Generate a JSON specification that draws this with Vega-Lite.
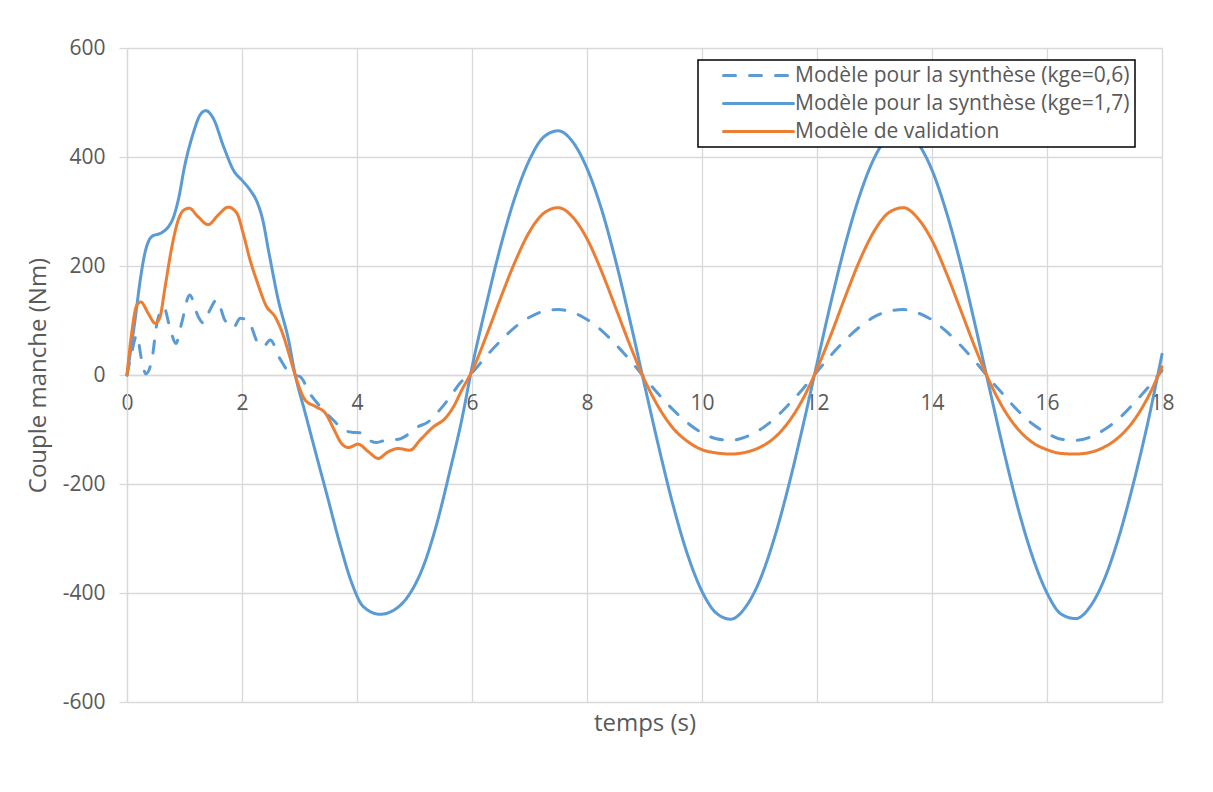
{
"$schema": "https://vega.github.io/schema/vega-lite/v6.json",
"width": 1035, "height": 654,
"autosize": {"type": "none"},
"padding": {"left": 127, "top": 48, "right": 51, "bottom": 90},
"background": "white",
"config": {"view": {"stroke": null}, "font": "Open Sans"},
"data": {"values": [
{"modele":"Modèle pour la synthèse (kge=0,6)","temps":0,"couple":0},
{"modele":"Modèle pour la synthèse (kge=0,6)","temps":0.08,"couple":40},
{"modele":"Modèle pour la synthèse (kge=0,6)","temps":0.17,"couple":73},
{"modele":"Modèle pour la synthèse (kge=0,6)","temps":0.25,"couple":30},
{"modele":"Modèle pour la synthèse (kge=0,6)","temps":0.33,"couple":2},
{"modele":"Modèle pour la synthèse (kge=0,6)","temps":0.43,"couple":27},
{"modele":"Modèle pour la synthèse (kge=0,6)","temps":0.53,"couple":100},
{"modele":"Modèle pour la synthèse (kge=0,6)","temps":0.64,"couple":124},
{"modele":"Modèle pour la synthèse (kge=0,6)","temps":0.75,"couple":85},
{"modele":"Modèle pour la synthèse (kge=0,6)","temps":0.85,"couple":58},
{"modele":"Modèle pour la synthèse (kge=0,6)","temps":0.95,"couple":95},
{"modele":"Modèle pour la synthèse (kge=0,6)","temps":1.09,"couple":147},
{"modele":"Modèle pour la synthèse (kge=0,6)","temps":1.24,"couple":107},
{"modele":"Modèle pour la synthèse (kge=0,6)","temps":1.33,"couple":95},
{"modele":"Modèle pour la synthèse (kge=0,6)","temps":1.44,"couple":119},
{"modele":"Modèle pour la synthèse (kge=0,6)","temps":1.56,"couple":138},
{"modele":"Modèle pour la synthèse (kge=0,6)","temps":1.7,"couple":101},
{"modele":"Modèle pour la synthèse (kge=0,6)","temps":1.85,"couple":87},
{"modele":"Modèle pour la synthèse (kge=0,6)","temps":1.97,"couple":104},
{"modele":"Modèle pour la synthèse (kge=0,6)","temps":2.1,"couple":101},
{"modele":"Modèle pour la synthèse (kge=0,6)","temps":2.28,"couple":58},
{"modele":"Modèle pour la synthèse (kge=0,6)","temps":2.37,"couple":52},
{"modele":"Modèle pour la synthèse (kge=0,6)","temps":2.49,"couple":64},
{"modele":"Modèle pour la synthèse (kge=0,6)","temps":2.66,"couple":30},
{"modele":"Modèle pour la synthèse (kge=0,6)","temps":2.86,"couple":1},
{"modele":"Modèle pour la synthèse (kge=0,6)","temps":3.01,"couple":-3},
{"modele":"Modèle pour la synthèse (kge=0,6)","temps":3.18,"couple":-34},
{"modele":"Modèle pour la synthèse (kge=0,6)","temps":3.36,"couple":-58},
{"modele":"Modèle pour la synthèse (kge=0,6)","temps":3.59,"couple":-83},
{"modele":"Modèle pour la synthèse (kge=0,6)","temps":3.77,"couple":-101},
{"modele":"Modèle pour la synthèse (kge=0,6)","temps":3.91,"couple":-105},
{"modele":"Modèle pour la synthèse (kge=0,6)","temps":4.05,"couple":-106},
{"modele":"Modèle pour la synthèse (kge=0,6)","temps":4.2,"couple":-119},
{"modele":"Modèle pour la synthèse (kge=0,6)","temps":4.34,"couple":-124},
{"modele":"Modèle pour la synthèse (kge=0,6)","temps":4.52,"couple":-119},
{"modele":"Modèle pour la synthèse (kge=0,6)","temps":4.72,"couple":-118},
{"modele":"Modèle pour la synthèse (kge=0,6)","temps":4.83,"couple":-113},
{"modele":"Modèle pour la synthèse (kge=0,6)","temps":5.04,"couple":-96},
{"modele":"Modèle pour la synthèse (kge=0,6)","temps":5.24,"couple":-86},
{"modele":"Modèle pour la synthèse (kge=0,6)","temps":5.44,"couple":-64},
{"modele":"Modèle pour la synthèse (kge=0,6)","temps":5.62,"couple":-40},
{"modele":"Modèle pour la synthèse (kge=0,6)","temps":5.79,"couple":-15},
{"modele":"Modèle pour la synthèse (kge=0,6)","temps":6,"couple":4},
{"modele":"Modèle pour la synthèse (kge=0,6)","temps":6.25,"couple":35},
{"modele":"Modèle pour la synthèse (kge=0,6)","temps":6.5,"couple":63},
{"modele":"Modèle pour la synthèse (kge=0,6)","temps":6.75,"couple":88},
{"modele":"Modèle pour la synthèse (kge=0,6)","temps":7,"couple":106},
{"modele":"Modèle pour la synthèse (kge=0,6)","temps":7.25,"couple":117},
{"modele":"Modèle pour la synthèse (kge=0,6)","temps":7.5,"couple":120},
{"modele":"Modèle pour la synthèse (kge=0,6)","temps":7.75,"couple":115},
{"modele":"Modèle pour la synthèse (kge=0,6)","temps":8,"couple":102},
{"modele":"Modèle pour la synthèse (kge=0,6)","temps":8.25,"couple":82},
{"modele":"Modèle pour la synthèse (kge=0,6)","temps":8.5,"couple":56},
{"modele":"Modèle pour la synthèse (kge=0,6)","temps":8.75,"couple":27},
{"modele":"Modèle pour la synthèse (kge=0,6)","temps":9,"couple":-5},
{"modele":"Modèle pour la synthèse (kge=0,6)","temps":9.25,"couple":-36},
{"modele":"Modèle pour la synthèse (kge=0,6)","temps":9.5,"couple":-64},
{"modele":"Modèle pour la synthèse (kge=0,6)","temps":9.75,"couple":-88},
{"modele":"Modèle pour la synthèse (kge=0,6)","temps":10,"couple":-106},
{"modele":"Modèle pour la synthèse (kge=0,6)","temps":10.25,"couple":-117},
{"modele":"Modèle pour la synthèse (kge=0,6)","temps":10.5,"couple":-120},
{"modele":"Modèle pour la synthèse (kge=0,6)","temps":10.75,"couple":-114},
{"modele":"Modèle pour la synthèse (kge=0,6)","temps":11,"couple":-101},
{"modele":"Modèle pour la synthèse (kge=0,6)","temps":11.25,"couple":-81},
{"modele":"Modèle pour la synthèse (kge=0,6)","temps":11.5,"couple":-55},
{"modele":"Modèle pour la synthèse (kge=0,6)","temps":11.75,"couple":-26},
{"modele":"Modèle pour la synthèse (kge=0,6)","temps":12,"couple":6},
{"modele":"Modèle pour la synthèse (kge=0,6)","temps":12.25,"couple":37},
{"modele":"Modèle pour la synthèse (kge=0,6)","temps":12.5,"couple":65},
{"modele":"Modèle pour la synthèse (kge=0,6)","temps":12.75,"couple":89},
{"modele":"Modèle pour la synthèse (kge=0,6)","temps":13,"couple":107},
{"modele":"Modèle pour la synthèse (kge=0,6)","temps":13.25,"couple":117},
{"modele":"Modèle pour la synthèse (kge=0,6)","temps":13.5,"couple":120},
{"modele":"Modèle pour la synthèse (kge=0,6)","temps":13.75,"couple":114},
{"modele":"Modèle pour la synthèse (kge=0,6)","temps":14,"couple":101},
{"modele":"Modèle pour la synthèse (kge=0,6)","temps":14.25,"couple":80},
{"modele":"Modèle pour la synthèse (kge=0,6)","temps":14.5,"couple":54},
{"modele":"Modèle pour la synthèse (kge=0,6)","temps":14.75,"couple":25},
{"modele":"Modèle pour la synthèse (kge=0,6)","temps":15,"couple":-7},
{"modele":"Modèle pour la synthèse (kge=0,6)","temps":15.25,"couple":-37},
{"modele":"Modèle pour la synthèse (kge=0,6)","temps":15.5,"couple":-66},
{"modele":"Modèle pour la synthèse (kge=0,6)","temps":15.75,"couple":-90},
{"modele":"Modèle pour la synthèse (kge=0,6)","temps":16,"couple":-107},
{"modele":"Modèle pour la synthèse (kge=0,6)","temps":16.25,"couple":-118},
{"modele":"Modèle pour la synthèse (kge=0,6)","temps":16.5,"couple":-120},
{"modele":"Modèle pour la synthèse (kge=0,6)","temps":16.75,"couple":-114},
{"modele":"Modèle pour la synthèse (kge=0,6)","temps":17,"couple":-100},
{"modele":"Modèle pour la synthèse (kge=0,6)","temps":17.25,"couple":-80},
{"modele":"Modèle pour la synthèse (kge=0,6)","temps":17.5,"couple":-53},
{"modele":"Modèle pour la synthèse (kge=0,6)","temps":17.75,"couple":-24},
{"modele":"Modèle pour la synthèse (kge=0,6)","temps":18,"couple":8},
{"modele":"Modèle pour la synthèse (kge=1,7)","temps":0,"couple":0},
{"modele":"Modèle pour la synthèse (kge=1,7)","temps":0.07,"couple":50},
{"modele":"Modèle pour la synthèse (kge=1,7)","temps":0.14,"couple":101},
{"modele":"Modèle pour la synthèse (kge=1,7)","temps":0.23,"couple":174},
{"modele":"Modèle pour la synthèse (kge=1,7)","temps":0.31,"couple":223},
{"modele":"Modèle pour la synthèse (kge=1,7)","temps":0.43,"couple":254},
{"modele":"Modèle pour la synthèse (kge=1,7)","temps":0.6,"couple":261},
{"modele":"Modèle pour la synthèse (kge=1,7)","temps":0.72,"couple":272},
{"modele":"Modèle pour la synthèse (kge=1,7)","temps":0.81,"couple":290},
{"modele":"Modèle pour la synthèse (kge=1,7)","temps":0.9,"couple":325},
{"modele":"Modèle pour la synthèse (kge=1,7)","temps":1,"couple":382},
{"modele":"Modèle pour la synthèse (kge=1,7)","temps":1.15,"couple":443},
{"modele":"Modèle pour la synthèse (kge=1,7)","temps":1.27,"couple":477},
{"modele":"Modèle pour la synthèse (kge=1,7)","temps":1.37,"couple":485},
{"modele":"Modèle pour la synthèse (kge=1,7)","temps":1.5,"couple":471},
{"modele":"Modèle pour la synthèse (kge=1,7)","temps":1.68,"couple":419},
{"modele":"Modèle pour la synthèse (kge=1,7)","temps":1.85,"couple":376},
{"modele":"Modèle pour la synthèse (kge=1,7)","temps":2.02,"couple":355},
{"modele":"Modèle pour la synthèse (kge=1,7)","temps":2.15,"couple":338},
{"modele":"Modèle pour la synthèse (kge=1,7)","temps":2.26,"couple":318},
{"modele":"Modèle pour la synthèse (kge=1,7)","temps":2.36,"couple":285},
{"modele":"Modèle pour la synthèse (kge=1,7)","temps":2.46,"couple":229},
{"modele":"Modèle pour la synthèse (kge=1,7)","temps":2.63,"couple":138},
{"modele":"Modèle pour la synthèse (kge=1,7)","temps":2.81,"couple":64},
{"modele":"Modèle pour la synthèse (kge=1,7)","temps":2.92,"couple":3},
{"modele":"Modèle pour la synthèse (kge=1,7)","temps":3.1,"couple":-70},
{"modele":"Modèle pour la synthèse (kge=1,7)","temps":3.3,"couple":-150},
{"modele":"Modèle pour la synthèse (kge=1,7)","temps":3.47,"couple":-217},
{"modele":"Modèle pour la synthèse (kge=1,7)","temps":3.7,"couple":-309},
{"modele":"Modèle pour la synthèse (kge=1,7)","temps":3.91,"couple":-382},
{"modele":"Modèle pour la synthèse (kge=1,7)","temps":4.11,"couple":-425},
{"modele":"Modèle pour la synthèse (kge=1,7)","temps":4.4,"couple":-439},
{"modele":"Modèle pour la synthèse (kge=1,7)","temps":4.69,"couple":-428},
{"modele":"Modèle pour la synthèse (kge=1,7)","temps":4.92,"couple":-401},
{"modele":"Modèle pour la synthèse (kge=1,7)","temps":5.15,"couple":-352},
{"modele":"Modèle pour la synthèse (kge=1,7)","temps":5.39,"couple":-272},
{"modele":"Modèle pour la synthèse (kge=1,7)","temps":5.62,"couple":-174},
{"modele":"Modèle pour la synthèse (kge=1,7)","temps":5.82,"couple":-83},
{"modele":"Modèle pour la synthèse (kge=1,7)","temps":6,"couple":14},
{"modele":"Modèle pour la synthèse (kge=1,7)","temps":6.25,"couple":130},
{"modele":"Modèle pour la synthèse (kge=1,7)","temps":6.5,"couple":237},
{"modele":"Modèle pour la synthèse (kge=1,7)","temps":6.75,"couple":327},
{"modele":"Modèle pour la synthèse (kge=1,7)","temps":7,"couple":395},
{"modele":"Modèle pour la synthèse (kge=1,7)","temps":7.25,"couple":437},
{"modele":"Modèle pour la synthèse (kge=1,7)","temps":7.5,"couple":448},
{"modele":"Modèle pour la synthèse (kge=1,7)","temps":7.75,"couple":428},
{"modele":"Modèle pour la synthèse (kge=1,7)","temps":8,"couple":379},
{"modele":"Modèle pour la synthèse (kge=1,7)","temps":8.25,"couple":305},
{"modele":"Modèle pour la synthèse (kge=1,7)","temps":8.5,"couple":209},
{"modele":"Modèle pour la synthèse (kge=1,7)","temps":8.75,"couple":99},
{"modele":"Modèle pour la synthèse (kge=1,7)","temps":9,"couple":-18},
{"modele":"Modèle pour la synthèse (kge=1,7)","temps":9.25,"couple":-133},
{"modele":"Modèle pour la synthèse (kge=1,7)","temps":9.5,"couple":-240},
{"modele":"Modèle pour la synthèse (kge=1,7)","temps":9.75,"couple":-330},
{"modele":"Modèle pour la synthèse (kge=1,7)","temps":10,"couple":-397},
{"modele":"Modèle pour la synthèse (kge=1,7)","temps":10.25,"couple":-437},
{"modele":"Modèle pour la synthèse (kge=1,7)","temps":10.5,"couple":-448},
{"modele":"Modèle pour la synthèse (kge=1,7)","temps":10.75,"couple":-427},
{"modele":"Modèle pour la synthèse (kge=1,7)","temps":11,"couple":-378},
{"modele":"Modèle pour la synthèse (kge=1,7)","temps":11.25,"couple":-302},
{"modele":"Modèle pour la synthèse (kge=1,7)","temps":11.5,"couple":-206},
{"modele":"Modèle pour la synthèse (kge=1,7)","temps":11.75,"couple":-96},
{"modele":"Modèle pour la synthèse (kge=1,7)","temps":12,"couple":21},
{"modele":"Modèle pour la synthèse (kge=1,7)","temps":12.25,"couple":137},
{"modele":"Modèle pour la synthèse (kge=1,7)","temps":12.5,"couple":243},
{"modele":"Modèle pour la synthèse (kge=1,7)","temps":12.75,"couple":332},
{"modele":"Modèle pour la synthèse (kge=1,7)","temps":13,"couple":399},
{"modele":"Modèle pour la synthèse (kge=1,7)","temps":13.25,"couple":438},
{"modele":"Modèle pour la synthèse (kge=1,7)","temps":13.5,"couple":447},
{"modele":"Modèle pour la synthèse (kge=1,7)","temps":13.75,"couple":426},
{"modele":"Modèle pour la synthèse (kge=1,7)","temps":14,"couple":376},
{"modele":"Modèle pour la synthèse (kge=1,7)","temps":14.25,"couple":299},
{"modele":"Modèle pour la synthèse (kge=1,7)","temps":14.5,"couple":203},
{"modele":"Modèle pour la synthèse (kge=1,7)","temps":14.75,"couple":92},
{"modele":"Modèle pour la synthèse (kge=1,7)","temps":15,"couple":-25},
{"modele":"Modèle pour la synthèse (kge=1,7)","temps":15.25,"couple":-140},
{"modele":"Modèle pour la synthèse (kge=1,7)","temps":15.5,"couple":-246},
{"modele":"Modèle pour la synthèse (kge=1,7)","temps":15.75,"couple":-334},
{"modele":"Modèle pour la synthèse (kge=1,7)","temps":16,"couple":-400},
{"modele":"Modèle pour la synthèse (kge=1,7)","temps":16.25,"couple":-439},
{"modele":"Modèle pour la synthèse (kge=1,7)","temps":16.5,"couple":-447},
{"modele":"Modèle pour la synthèse (kge=1,7)","temps":16.75,"couple":-425},
{"modele":"Modèle pour la synthèse (kge=1,7)","temps":17,"couple":-374},
{"modele":"Modèle pour la synthèse (kge=1,7)","temps":17.25,"couple":-297},
{"modele":"Modèle pour la synthèse (kge=1,7)","temps":17.5,"couple":-200},
{"modele":"Modèle pour la synthèse (kge=1,7)","temps":17.75,"couple":-89},
{"modele":"Modèle pour la synthèse (kge=1,7)","temps":18,"couple":38},
{"modele":"Modèle de validation","temps":0,"couple":0},
{"modele":"Modèle de validation","temps":0.08,"couple":76},
{"modele":"Modèle de validation","temps":0.17,"couple":128},
{"modele":"Modèle de validation","temps":0.24,"couple":134},
{"modele":"Modèle de validation","temps":0.37,"couple":113},
{"modele":"Modèle de validation","temps":0.49,"couple":95},
{"modele":"Modèle de validation","temps":0.57,"couple":105},
{"modele":"Modèle de validation","temps":0.66,"couple":160},
{"modele":"Modèle de validation","temps":0.78,"couple":235},
{"modele":"Modèle de validation","temps":0.89,"couple":284},
{"modele":"Modèle de validation","temps":0.98,"couple":302},
{"modele":"Modèle de validation","temps":1.08,"couple":306},
{"modele":"Modèle de validation","temps":1.24,"couple":290},
{"modele":"Modèle de validation","temps":1.41,"couple":276},
{"modele":"Modèle de validation","temps":1.59,"couple":294},
{"modele":"Modèle de validation","temps":1.76,"couple":308},
{"modele":"Modèle de validation","temps":1.91,"couple":297},
{"modele":"Modèle de validation","temps":2.02,"couple":260},
{"modele":"Modèle de validation","temps":2.14,"couple":211},
{"modele":"Modèle de validation","temps":2.26,"couple":172},
{"modele":"Modèle de validation","temps":2.42,"couple":127},
{"modele":"Modèle de validation","temps":2.58,"couple":106},
{"modele":"Modèle de validation","temps":2.72,"couple":72},
{"modele":"Modèle de validation","temps":2.83,"couple":34},
{"modele":"Modèle de validation","temps":2.95,"couple":-9},
{"modele":"Modèle de validation","temps":3.1,"couple":-46},
{"modele":"Modèle de validation","temps":3.28,"couple":-58},
{"modele":"Modèle de validation","temps":3.45,"couple":-70},
{"modele":"Modèle de validation","temps":3.6,"couple":-100},
{"modele":"Modèle de validation","temps":3.72,"couple":-124},
{"modele":"Modèle de validation","temps":3.85,"couple":-133},
{"modele":"Modèle de validation","temps":4.02,"couple":-127},
{"modele":"Modèle de validation","temps":4.2,"couple":-141},
{"modele":"Modèle de validation","temps":4.37,"couple":-153},
{"modele":"Modèle de validation","temps":4.54,"couple":-141},
{"modele":"Modèle de validation","temps":4.72,"couple":-135},
{"modele":"Modèle de validation","temps":4.92,"couple":-138},
{"modele":"Modèle de validation","temps":5.1,"couple":-119},
{"modele":"Modèle de validation","temps":5.33,"couple":-95},
{"modele":"Modèle de validation","temps":5.53,"couple":-80},
{"modele":"Modèle de validation","temps":5.68,"couple":-58},
{"modele":"Modèle de validation","temps":5.82,"couple":-28},
{"modele":"Modèle de validation","temps":6,"couple":7},
{"modele":"Modèle de validation","temps":6.25,"couple":72},
{"modele":"Modèle de validation","temps":6.5,"couple":142},
{"modele":"Modèle de validation","temps":6.75,"couple":208},
{"modele":"Modèle de validation","temps":7,"couple":263},
{"modele":"Modèle de validation","temps":7.25,"couple":297},
{"modele":"Modèle de validation","temps":7.5,"couple":307},
{"modele":"Modèle de validation","temps":7.75,"couple":290},
{"modele":"Modèle de validation","temps":8,"couple":250},
{"modele":"Modèle de validation","temps":8.25,"couple":191},
{"modele":"Modèle de validation","temps":8.5,"couple":123},
{"modele":"Modèle de validation","temps":8.75,"couple":54},
{"modele":"Modèle de validation","temps":9,"couple":-9},
{"modele":"Modèle de validation","temps":9.25,"couple":-60},
{"modele":"Modèle de validation","temps":9.5,"couple":-98},
{"modele":"Modèle de validation","temps":9.75,"couple":-122},
{"modele":"Modèle de validation","temps":10,"couple":-137},
{"modele":"Modèle de validation","temps":10.25,"couple":-143},
{"modele":"Modèle de validation","temps":10.5,"couple":-145},
{"modele":"Modèle de validation","temps":10.75,"couple":-142},
{"modele":"Modèle de validation","temps":11,"couple":-133},
{"modele":"Modèle de validation","temps":11.25,"couple":-116},
{"modele":"Modèle de validation","temps":11.5,"couple":-87},
{"modele":"Modèle de validation","temps":11.75,"couple":-45},
{"modele":"Modèle de validation","temps":12,"couple":11},
{"modele":"Modèle de validation","temps":12.25,"couple":76},
{"modele":"Modèle de validation","temps":12.5,"couple":146},
{"modele":"Modèle de validation","temps":12.75,"couple":212},
{"modele":"Modèle de validation","temps":13,"couple":265},
{"modele":"Modèle de validation","temps":13.25,"couple":298},
{"modele":"Modèle de validation","temps":13.5,"couple":307},
{"modele":"Modèle de validation","temps":13.75,"couple":288},
{"modele":"Modèle de validation","temps":14,"couple":247},
{"modele":"Modèle de validation","temps":14.25,"couple":187},
{"modele":"Modèle de validation","temps":14.5,"couple":119},
{"modele":"Modèle de validation","temps":14.75,"couple":50},
{"modele":"Modèle de validation","temps":15,"couple":-12},
{"modele":"Modèle de validation","temps":15.25,"couple":-63},
{"modele":"Modèle de validation","temps":15.5,"couple":-100},
{"modele":"Modèle de validation","temps":15.75,"couple":-124},
{"modele":"Modèle de validation","temps":16,"couple":-137},
{"modele":"Modèle de validation","temps":16.25,"couple":-144},
{"modele":"Modèle de validation","temps":16.5,"couple":-145},
{"modele":"Modèle de validation","temps":16.75,"couple":-142},
{"modele":"Modèle de validation","temps":17,"couple":-132},
{"modele":"Modèle de validation","temps":17.25,"couple":-114},
{"modele":"Modèle de validation","temps":17.5,"couple":-85},
{"modele":"Modèle de validation","temps":17.75,"couple":-42},
{"modele":"Modèle de validation","temps":18,"couple":15}
]},
"mark": {"type": "line", "interpolate": "monotone", "strokeWidth": 3, "strokeCap": "round", "strokeJoin": "round"},
"encoding": {
"x": {"field": "temps", "type": "quantitative", "scale": {"domain": [0, 18], "nice": false, "zero": false},
 "axis": {"title": "temps (s)", "values": [0,2,4,6,8,10,12,14,16,18], "offset": -327, "grid": true, "gridColor": "#D9D9D9", "gridWidth": 1.3, "domainColor": "#D9D9D9", "domainWidth": 1.3, "tickColor": "#D9D9D9", "tickWidth": 1.3, "tickSize": 6, "labelFontSize": 21, "labelColor": "#595959", "labelPadding": 11, "labelFlush": false, "labelExpr": "'' + datum.value", "titleFontSize": 24, "titleFontWeight": "normal", "titleColor": "#595959", "titleY": 348, "titleBaseline": "middle"}},
"y": {"field": "couple", "type": "quantitative", "scale": {"domain": [-600, 600], "nice": false},
 "axis": {"title": "Couple manche (Nm)", "values": [-600,-400,-200,0,200,400,600], "grid": true, "gridColor": "#D9D9D9", "gridWidth": 1.3, "domainColor": "#D9D9D9", "domainWidth": 1.3, "tickColor": "#D9D9D9", "tickWidth": 1.3, "tickSize": 8, "labelFontSize": 21, "labelColor": "#595959", "labelPadding": 14, "labelExpr": "'' + datum.value", "titleFontSize": 24, "titleFontWeight": "normal", "titleColor": "#595959", "titleX": -89, "titleY": 327, "titleAngle": -90, "titleAlign": "center", "titleBaseline": "middle"}},
"color": {"field": "modele", "type": "nominal",
 "scale": {"domain": ["Modèle pour la synthèse (kge=0,6)", "Modèle pour la synthèse (kge=1,7)", "Modèle de validation"], "range": ["#5B9BD5", "#5B9BD5", "#ED7D31"]},
 "legend": {"title": null, "orient": "none", "legendX": 571, "legendY": 12, "direction": "vertical", "strokeColor": "#000000", "fillColor": "#FFFFFF", "padding": 5, "rowPadding": 6, "labelFontSize": 21, "labelColor": "#595959", "labelLimit": 600, "labelOffset": 71, "labelExpr": "datum.label + '\u00a0\u00a0\u00a0'", "symbolType": "M2,0H16", "symbolSize": 100, "symbolStrokeWidth": 3, "encode": {"legend": {"update": {"strokeWidth": {"value": 1.5}}}, "symbols": {"update": {"strokeCap": {"value": "round"}}}}}},
"strokeDash": {"field": "modele", "type": "nominal",
 "scale": {"domain": ["Modèle pour la synthèse (kge=0,6)", "Modèle pour la synthèse (kge=1,7)", "Modèle de validation"], "range": [[12, 14], [1, 0], [1, 0]]},
 "legend": {"title": null, "orient": "none", "legendX": 571, "legendY": 12, "direction": "vertical", "strokeColor": "#000000", "fillColor": "#FFFFFF", "padding": 5, "rowPadding": 6, "labelFontSize": 21, "labelColor": "#595959", "labelLimit": 600, "labelOffset": 71, "labelExpr": "datum.label + '\u00a0\u00a0\u00a0'", "symbolType": "M2,0H16", "symbolSize": 100, "symbolStrokeWidth": 3, "encode": {"legend": {"update": {"strokeWidth": {"value": 1.5}}}, "symbols": {"update": {"strokeCap": {"value": "round"}}}}}}
}
}
